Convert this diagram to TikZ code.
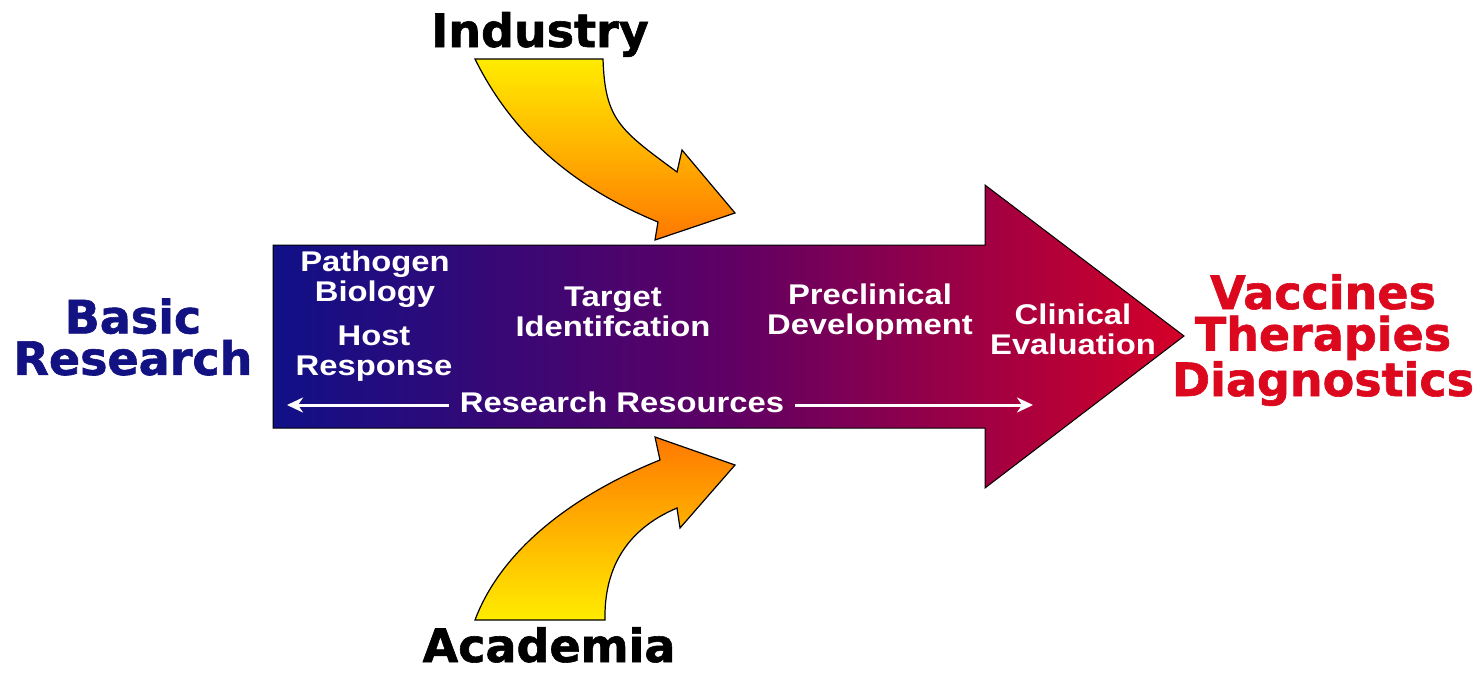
\documentclass[tikz,border=0pt]{standalone}
\usepackage{fontspec}
\usepackage{tikz}
\usetikzlibrary{arrows,arrows.meta}
\newfontfamily\heavyfont[BoldFeatures={FakeBold=1.3}]{DejaVu Sans}
\newfontfamily\stagefont[FakeStretch=1.15]{Liberation Sans}
\definecolor{navyblue}{RGB}{18,18,130}
\definecolor{deepred}{RGB}{220,8,30}
\definecolor{bodyleft}{RGB}{16,16,135}
\definecolor{bodymid}{RGB}{95,0,100}
\definecolor{bodyright}{RGB}{212,0,40}
\definecolor{arrowyellow}{RGB}{255,236,0}
\definecolor{arroworange}{RGB}{255,120,0}
\tikzset{bigword/.style={font=\heavyfont\bfseries\fontsize{46}{41.5}\selectfont,align=center,inner sep=0pt}}
\tikzset{stage/.style={font=\stagefont\bfseries\fontsize{28.5}{30}\selectfont,text=white,align=center,inner sep=0pt}}
\tikzset{resarrow/.style={draw=white,line width=3pt,-{Stealth[length=16pt,width=15pt,inset=5pt]}}}

\begin{document}
\begin{tikzpicture}[x=1pt,y=-1pt]
\useasboundingbox (0,0) rectangle (1477,672);

\shadedraw[left color=bodyleft,right color=bodyright,middle color=bodymid,draw=black,line width=1pt]
  (273,245) -- (985,245) -- (985,185) -- (1184,336) -- (985,488) -- (985,428) -- (273,428) -- cycle;

\shadedraw[top color=arrowyellow,bottom color=arroworange,draw=black,line width=1.2pt]
  (475,59) -- (603,59) .. controls (605,120) and (620,130) .. (677,172) -- (682,150) -- (735,213)
  -- (655,240) -- (658,222) .. controls (580,190) and (515,140) .. (475,59) -- cycle;
\shadedraw[top color=arroworange,bottom color=arrowyellow,draw=black,line width=1.2pt]
  (475,620) -- (605,620) .. controls (604,570) and (625,530) .. (677,508) -- (680,528) -- (735,465)
  -- (655,437) -- (660,460) .. controls (590,488) and (505,540) .. (475,620) -- cycle;

\node[bigword,text=navyblue] (basic) at (133,337) {Basic\\Research};
\node[bigword,anchor=base] (industry) at (540,47) {Industry};
\node[bigword,anchor=base,text depth=0pt] (academia) at (549,662) {Academia};
\node[bigword,text=deepred] (products) at (1323,340) {Vaccines\\Therapies\\Diagnostics};

\node[stage] (pathogen) at (375,279) {Pathogen\\Biology};
\node[stage] (host) at (374,354) {Host\\Response};
\node[stage] (target) at (613,312) {Target\\Identifcation};
\node[stage] (preclin) at (870,312) {Preclinical\\Development};
\node[stage] (clinical) at (1073,329) {Clinical\\Evaluation};
\node[stage,anchor=base,inner xsep=11pt] (resources) at (622,412) {Research Resources};

\coordinate (resleft) at (287,405);
\coordinate (resright) at (1033,405);
\draw[resarrow] (resources.west |- resleft) -- (resleft);
\draw[resarrow] (resources.east |- resright) -- (resright);
\end{tikzpicture}
\end{document}
